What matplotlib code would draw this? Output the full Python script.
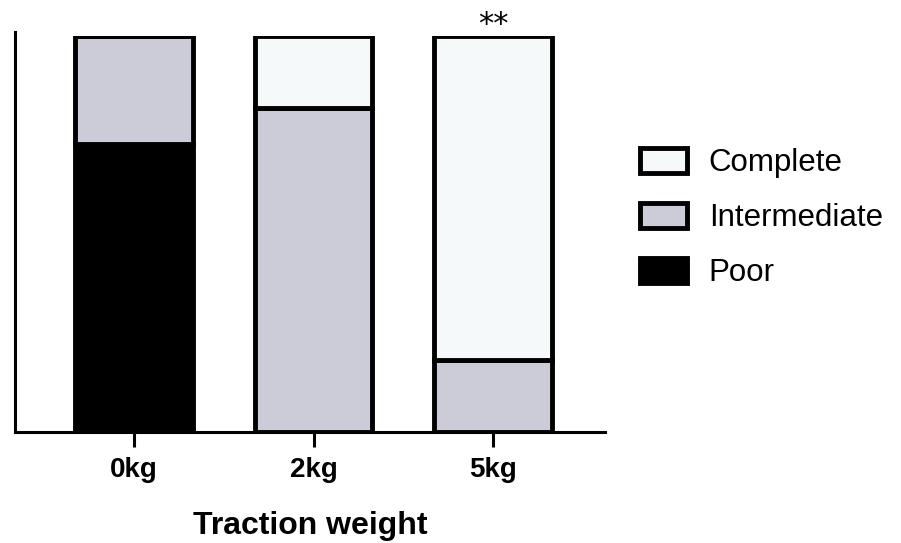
import matplotlib.pyplot as plt
from matplotlib.patches import Patch

plt.rcParams['font.family'] = ['Liberation Sans', 'DejaVu Sans']

# values in percent
weights = ['0kg', '2kg', '5kg']
poor = [72.7, 0, 0]
intermediate = [27.3, 81.8, 18.2]
complete = [0, 18.2, 81.8]

COL_COMPLETE = '#f6f9f9'
COL_INTER = '#cccbd8'
COL_POOR = '#000000'

fig = plt.figure(figsize=(9.01, 5.43), dpi=100)
ax = fig.add_axes([15 / 901, 1 - 432 / 543, 590 / 901, 396 / 543])

x = list(range(len(weights)))
width = 0.655
lw = 3.5
bottom = [0] * len(weights)
for vals, col in [(poor, COL_POOR), (intermediate, COL_INTER), (complete, COL_COMPLETE)]:
    ax.bar(x, vals, width, bottom=bottom, color=col, edgecolor='black', linewidth=lw, zorder=2)
    bottom = [b + v for b, v in zip(bottom, vals)]

ax.set_ylim(0, 100)
ax.set_xlim(-0.663, 2.624)
ax.set_xticks(x)
ax.set_xticklabels(weights, fontsize=20, fontweight='bold')
ax.set_yticks([])
ax.tick_params(axis='x', length=11, width=2.2, pad=7)
for s in ['top', 'right']:
    ax.spines[s].set_visible(False)
for s in ['left', 'bottom']:
    ax.spines[s].set_linewidth(2.2)
ax.spines['left'].set_bounds(0, 101)
ax.set_xlabel('Traction weight', fontsize=23, fontweight='bold', labelpad=20)

# significance mark over the 5kg bar
ax.text(2, 100.8, '**', ha='center', va='baseline', fontsize=22,
        family='DejaVu Sans', clip_on=False)

handles = [Patch(facecolor=COL_COMPLETE, edgecolor='black', linewidth=lw, label='Complete'),
           Patch(facecolor=COL_INTER, edgecolor='black', linewidth=lw, label='Intermediate'),
           Patch(facecolor=COL_POOR, edgecolor='black', linewidth=lw, label='Poor')]
fig.legend(handles=handles, loc='center left', bbox_to_anchor=(640 / 901, 1 - 218 / 543),
           frameon=False, fontsize=22.5, handlelength=1.5, handleheight=0.875,
           labelspacing=0.78, handletextpad=0.7, borderpad=0, borderaxespad=0)

fig.savefig('out.png', dpi=100)
